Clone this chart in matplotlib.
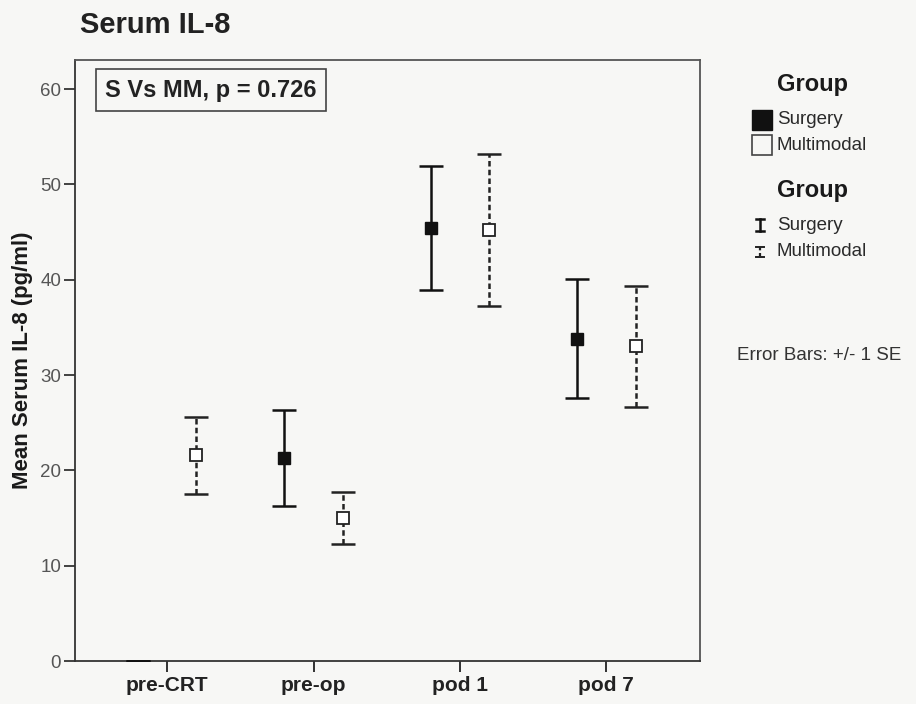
import numpy as np
import matplotlib
matplotlib.use('Agg')
import matplotlib.pyplot as plt
from matplotlib.lines import Line2D

plt.rcParams['font.family'] = ['Liberation Sans', 'DejaVu Sans']

# data
categories = ['pre-CRT', 'pre-op', 'pod 1', 'pod 7']
surgery_mean = [0.0, 21.3, 45.4, 33.8]
surgery_se = [0.0, 5.0, 6.5, 6.25]
multimodal_mean = [21.6, 15.0, 45.2, 33.0]
multimodal_se = [4.05, 2.7, 8.0, 6.35]
p_text = 'S Vs MM, p = 0.726'

W, H = 916, 704
bg = '#f7f7f5'
fig = plt.figure(figsize=(W / 100, H / 100), dpi=100, facecolor=bg)
ax = fig.add_axes([75/W, 43/H, 625/W, 601/H])
ax.set_facecolor(bg)

x = np.arange(len(categories))
off = 0.2
dash = (0, (2.2, 1.3))

# surgery: solid bars, filled squares (first point has no marker)
s_err = ax.errorbar(x - off, surgery_mean, yerr=surgery_se, fmt='none', ecolor='#111111',
                    elinewidth=1.8, capsize=8.5, capthick=1.8, zorder=3)
ax.plot(x[1:] - off, surgery_mean[1:], 's', color='#111111', markersize=8.5, zorder=4)

# multimodal: dashed bars, open squares
m_err = ax.errorbar(x + off, multimodal_mean, yerr=multimodal_se, fmt='none', ecolor='#222222',
                    elinewidth=1.8, capsize=8.5, capthick=1.8, zorder=3)
m_err[2][0].set_linestyle(dash)
ax.plot(x + off, multimodal_mean, 's', markerfacecolor='white', markeredgecolor='#222222',
        markeredgewidth=1.3, markersize=8.5, zorder=4)

ax.set_xlim(-0.63, 3.64)
ax.set_ylim(0, 63.05)
ax.set_xticks(x)
ax.set_xticklabels(categories, fontsize=15, fontweight='bold', color='#1a1a1a')
ax.set_yticks(np.arange(0, 61, 10))
ax.tick_params(axis='y', labelsize=13.5, length=8, width=1.3, colors='#333333', pad=2)
ax.tick_params(axis='x', length=8, width=1.3, colors='#222222', pad=3)
for lab in ax.get_yticklabels():
    lab.set_color('#555555')
for sp in ax.spines.values():
    sp.set_color('#555555')
    sp.set_linewidth(1.3)
ax.spines['left'].set_color('#333333')
ax.spines['bottom'].set_color('#333333')

ax.set_ylabel('Mean Serum IL-8 (pg/ml)', fontsize=16, fontweight='bold', labelpad=5,
              color='#1a1a1a')

ax.text(30/625, 1 - 30/601, p_text, transform=ax.transAxes, fontsize=17,
        fontweight='bold', color='#222222', va='center', ha='left',
        bbox=dict(boxstyle='square,pad=0.4', facecolor=bg, edgecolor='#444444', linewidth=1.2))
fig.text(80/W, 1 - 25/H, 'Serum IL-8', fontsize=21, fontweight='bold', va='center', ha='left',
         color='#222222')


def fx(px):
    return px / W


def fy(py):
    return 1 - py / H


# legend, drawn by hand at the reference's pixel positions
fig.text(fx(813), fy(85), 'Group', fontsize=17, fontweight='bold', ha='center', va='center',
         color='#1a1a1a')
fig.text(fx(813), fy(190), 'Group', fontsize=17, fontweight='bold', ha='center', va='center',
         color='#1a1a1a')
fig.add_artist(Line2D([fx(762)], [fy(120)], marker='s', markersize=14, color='#111111',
                      transform=fig.transFigure))
fig.add_artist(Line2D([fx(762)], [fy(145)], marker='s', markersize=14, markerfacecolor=bg,
                      markeredgecolor='#444444', markeredgewidth=1.2, transform=fig.transFigure))
for yy, txt in [(120, 'Surgery'), (145, 'Multimodal'), (225, 'Surgery'), (252, 'Multimodal')]:
    fig.text(fx(777), fy(yy), txt, fontsize=13.5, ha='left', va='center', color='#2a2a2a')

# error-bar glyphs
fig.add_artist(Line2D([fx(760), fx(760)], [fy(219), fy(231)], color='#111111', lw=1.8,
                      transform=fig.transFigure))
for yy in (219, 231):
    fig.add_artist(Line2D([fx(756), fx(764)], [fy(yy), fy(yy)], color='#111111', lw=1.8,
                          transform=fig.transFigure))
fig.add_artist(Line2D([fx(760), fx(760)], [fy(247), fy(257)], color='#222222', lw=1.6,
                      linestyle=(0, (1.5, 1.2)), transform=fig.transFigure))
for yy in (247, 257):
    fig.add_artist(Line2D([fx(756), fx(764)], [fy(yy), fy(yy)], color='#222222', lw=1.4,
                          transform=fig.transFigure))

fig.text(fx(737), fy(355), 'Error Bars: +/- 1 SE', fontsize=13.5, va='center', ha='left',
         color='#333333')

fig.savefig('out.png', dpi=100, facecolor=bg)
